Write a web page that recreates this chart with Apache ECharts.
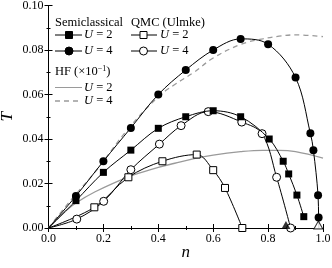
<!DOCTYPE html>
<html><head><meta charset="utf-8">
<script src="https://cdn.jsdelivr.net/npm/echarts@6/dist/echarts.min.js"></script>
<style>html,body{margin:0;padding:0;background:#fff}#c{width:332px;height:268px}</style>
</head><body><div id="c"></div>
<script>
// ---- data ----
const xTicks = [0.0, 0.2, 0.4, 0.6, 0.8, 1.0];
const yTicks = [0.00, 0.02, 0.04, 0.06, 0.08, 0.10];
const origin = [0, 0];
const semiU2 = [[0.1,0.0123],[0.2,0.025],[0.3,0.035],[0.4,0.0448],[0.5,0.050],[0.6,0.0527],[0.7,0.050],[0.804,0.040],[0.855,0.030],[0.875,0.0243],[0.905,0.0148],[0.930,0.0051]];
const semiU4 = [[0.1,0.0144],[0.2,0.030],[0.3,0.045],[0.4,0.060],[0.5,0.071],[0.6,0.080],[0.7,0.085],[0.8,0.0826],[0.9,0.0676],[0.954,0.0426],[0.965,0.035],[0.982,0.0147],[0.984,0.0047]];
const semiU4End = [0.985, 0];
const qmcU2 = [[0.167,0.0093],[0.291,0.0228],[0.415,0.030],[0.540,0.033],[0.600,0.026],[0.643,0.018],[0.706,0.0]];
const qmcU4 = [[0.103,0.0040],[0.201,0.0120],[0.30,0.0262],[0.404,0.0377],[0.483,0.046],[0.582,0.0523],[0.704,0.0476],[0.778,0.0424],[0.831,0.0228],[0.882,0.0]];
const hfN  = [0, 0.05, 0.1, 0.17, 0.29, 0.4, 0.46, 0.53, 0.6, 0.7, 0.78, 0.84, 0.9, 1.0];
const hfU2 = [0, 0.0062, 0.0112, 0.0163, 0.0229, 0.0272, 0.0291, 0.0312, 0.0328, 0.0343, 0.0349, 0.0349, 0.0343, 0.0314];
const hfU4 = [0, 0.0078, 0.0152, 0.0252, 0.0445, 0.059, 0.0645, 0.0700, 0.0764, 0.0825, 0.0850, 0.0862, 0.0868, 0.0860];
const critSemiU2 = [[0.865, 0]];
const critSemiU4 = [[0.983, 0]];

const chart = echarts.init(document.getElementById('c'), null, {renderer:'canvas'});
const FONT = 'Liberation Serif';
const gray = '#9a9a9a';
const lineW = 1;

function pts(arr){ return arr.map(p => ({value:p})); }
function withOrigin(arr, end){
  const d = [{value:origin, symbol:'none'}].concat(pts(arr));
  if (end) d.push({value:end, symbol:'none'});
  return d;
}

const axisCommon = {
  min: 0,
  axisLine: {show:true, lineStyle:{color:'#000', width:1}},
  axisTick: {show:true, inside:true, length:4, lineStyle:{color:'#000'}},
  minorTick: {show:true, splitNumber:2, length:2, lineStyle:{color:'#000'}},
  splitLine: {show:false},
};

const option = {
  animation:false,
  backgroundColor:'#fff',
  grid:{left:48.5, right:9, top:5.5, bottom:40, containLabel:false, outerBoundsMode:'none'},
  xAxis:[
    Object.assign({}, axisCommon, {type:'value', max:1.0, interval:0.2, position:'bottom',
      name:'n', nameLocation:'middle', nameGap:16, nameMoveOverlap:false,
      nameTextStyle:{fontFamily:FONT, fontStyle:'italic', fontSize:17, color:'#000'},
      axisLabel:{fontFamily:FONT, fontSize:12, color:'#000', margin:5, formatter:v=>v.toFixed(1)}}),
    Object.assign({}, axisCommon, {type:'value', max:1.0, interval:0.2, position:'top',
      axisLabel:{show:false}})
  ],
  yAxis:[
    Object.assign({}, axisCommon, {type:'value', max:0.10, interval:0.02, position:'left',
      name:'T', nameLocation:'middle', nameGap:32, nameRotate:90, nameMoveOverlap:false,
      nameTextStyle:{fontFamily:FONT, fontStyle:'italic', fontSize:17, color:'#000'},
      axisLabel:{fontFamily:FONT, fontSize:12, color:'#000', margin:5, formatter:v=>v.toFixed(2)}}),
    Object.assign({}, axisCommon, {type:'value', max:0.10, interval:0.02, position:'right',
      axisLabel:{show:false}})
  ],
  series:[
    {name:'HF U=2', type:'line', smooth:0.4, symbol:'none',
      data: hfN.map((n,i)=>[n, hfU2[i]]), lineStyle:{color:gray, width:1.3}, z:1},
    {name:'HF U=4', type:'line', smooth:0.4, symbol:'none',
      data: hfN.map((n,i)=>[n, hfU4[i]]), lineStyle:{color:gray, width:1.3, type:[5,4]}, z:1},
    {name:'QMC U=2', type:'line', smooth:0.35, symbol:'rect', symbolSize:7, clip:false,
      data: withOrigin(qmcU2), lineStyle:{color:'#000', width:lineW},
      itemStyle:{color:'#fff', borderColor:'#000', borderWidth:1}, z:3},
    {name:'QMC U=4', type:'line', smooth:0.35, symbol:'circle', symbolSize:8, clip:false,
      data: withOrigin(qmcU4), lineStyle:{color:'#000', width:lineW},
      itemStyle:{color:'#fff', borderColor:'#000', borderWidth:1}, z:3},
    {name:'Semi U=2', type:'line', smooth:0.35, symbol:'rect', symbolSize:7, clip:false,
      data: withOrigin(semiU2), lineStyle:{color:'#000', width:lineW},
      itemStyle:{color:'#000'}, z:4},
    {name:'Semi U=4', type:'line', smooth:0.35, symbol:'circle', symbolSize:8, clip:false,
      data: withOrigin(semiU4, semiU4End), lineStyle:{color:'#000', width:lineW},
      itemStyle:{color:'#000'}, z:4},
    {name:'crit semi U=2', type:'scatter', symbol:'triangle', symbolSize:[9,8], symbolOffset:[0,-3], clip:false,
      data: critSemiU2, itemStyle:{color:'#000'}, z:5},
    {name:'crit semi U=4', type:'scatter', symbol:'triangle', symbolSize:[9,8], symbolOffset:[0,-3], clip:false,
      data: critSemiU4, itemStyle:{color:'#fff', borderColor:'#000', borderWidth:1}, z:5}
  ],
  graphic:[]
};

// ---- legend (drawn as graphic) ----
const g = [];
const txt = (x,y,text) => g.push({type:'text', x:x, y:y, z:10,
  style:{text:text, fontFamily:FONT, fontSize:12.5, fill:'#000', verticalAlign:'middle', align:'left',
  rich:{i:{fontStyle:'italic', fontFamily:FONT, fontSize:12.5}, s:{fontFamily:FONT, fontSize:8, verticalAlign:'top', padding:[0,0,6,0]}}}});
const ln = (x1,x2,y,stroke,dash) => g.push({type:'line', z:10, shape:{x1:x1,y1:y,x2:x2,y2:y},
  style:{stroke:stroke, lineWidth:dash?1.3:1, lineDash:dash||null}});
const sq = (cx,cy,fill) => g.push({type:'rect', z:11, shape:{x:cx-3.5,y:cy-3.5,width:7,height:7}, style:{fill:fill, stroke:'#000', lineWidth:1}});
const ci = (cx,cy,fill) => g.push({type:'circle', z:11, shape:{cx:cx,cy:cy,r:4}, style:{fill:fill, stroke:'#000', lineWidth:1}});

txt(55, 23, 'Semiclassical');
ln(55, 82, 35, '#000'); sq(69, 35, '#000'); txt(84, 35, '{i|U} = 2');
ln(55, 82, 51, '#000'); ci(69, 51, '#000'); txt(84, 51, '{i|U} = 4');
txt(131, 23, 'QMC (Ulmke)');
ln(131, 157, 35, '#000'); sq(143.5, 35, '#fff'); txt(160, 35, '{i|U} = 2');
ln(131, 157, 51, '#000'); ci(143.5, 51, '#fff'); txt(160, 51, '{i|U} = 4');
txt(55, 72, 'HF (×10{s|−1})');
ln(55, 82, 87.5, gray); txt(84, 87.5, '{i|U} = 2');
ln(55, 82, 101, gray, [5,4]); txt(84, 101, '{i|U} = 4');
option.graphic = g;

chart.setOption(option);
</script></body></html>
